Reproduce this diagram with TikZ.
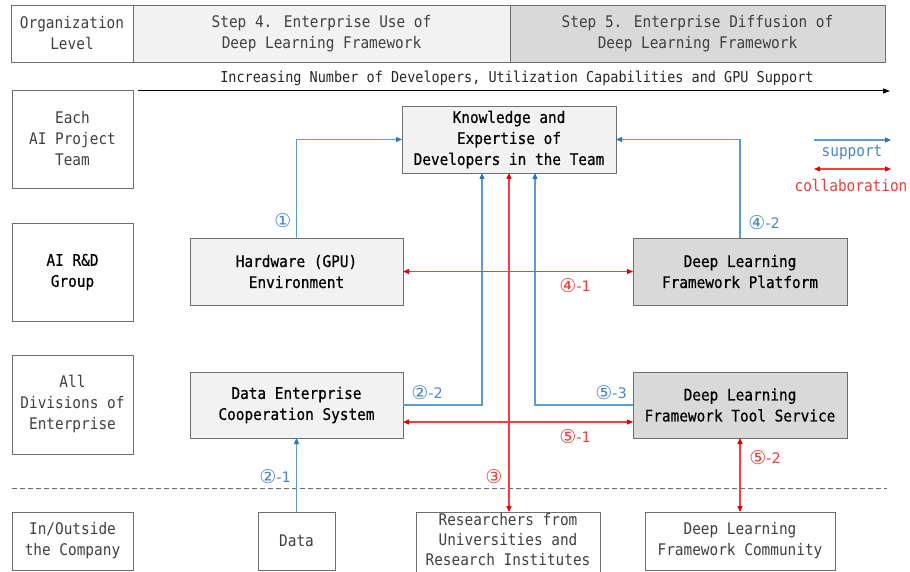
\documentclass[tikz,border=0pt]{standalone}
\usepackage{fontspec}
\setmainfont{DejaVu Sans Mono}[FakeStretch=0.9]
\newfontfamily\semibold{DejaVu Sans Mono}[FakeStretch=0.9, FakeBold=0.5]
\newfontfamily\numfont{DejaVu Sans}
\usetikzlibrary{arrows.meta}

\definecolor{lightfill}{HTML}{F2F2F2}
\definecolor{darkfill}{HTML}{D9D9D9}
\definecolor{boxline}{HTML}{6E6E6E}
\definecolor{softtext}{HTML}{404040}
\definecolor{supline}{HTML}{5B9BD5}
\definecolor{suptip}{HTML}{2E75B6}
\definecolor{colline}{HTML}{FF3B3B}
\definecolor{coltip}{HTML}{E00000}
\definecolor{suplabel}{HTML}{4A86C8}
\definecolor{collabel}{HTML}{E8403C}

% circled step number followed by an optional suffix
\newcommand\stepno[2]{{\fontsize{19}{19}\selectfont #1}\raisebox{1pt}{#2}}

\tikzset{
  txt/.style={font=\fontsize{16}{21}\selectfont},
  cell/.style={txt, draw=boxline, line width=0.9pt, align=center,
    inner sep=0pt, outer sep=0pt, text=softtext},
  levelbox/.style={cell, minimum width=121pt},
  mainbox/.style={cell, fill=lightfill, text=black,
    font=\fontsize{16}{21}\selectfont\semibold},
  darkbox/.style={mainbox, fill=darkfill},
  outbox/.style={cell},
  sup/.style={draw=supline, line width=1.1pt,
    -{Triangle[length=6pt,width=5pt,color=suptip]}},
  col/.style={draw=colline, line width=1.1pt,
    {Triangle[length=6pt,width=5pt,color=coltip]}-{Triangle[length=6pt,width=5pt,color=coltip]}},
  numlab/.style={font=\numfont\fontsize{14.5}{16}\selectfont, inner sep=0pt},
  suplab/.style={numlab, text=suplabel},
  collab/.style={numlab, text=collabel},
}

\begin{document}
\begin{tikzpicture}[x=1pt, y=-1pt]
\useasboundingbox[fill=white] (0,0) rectangle (910,572);

% header row
\node[cell, minimum width=122pt, minimum height=57pt] (hdrA) at (72,33.5)
  {Organization\\Level};
\node[cell, fill=lightfill, minimum width=377pt, minimum height=57pt] (hdrB) at (321.5,33.5)
  {Step 4. Enterprise Use of\\Deep Learning Framework};
\node[cell, fill=darkfill, minimum width=375pt, minimum height=57pt] (hdrC) at (697.5,33.5)
  {Step 5. Enterprise Diffusion of\\Deep Learning Framework};

% growth arrow
\coordinate (trendL) at (138,91);
\coordinate (trendR) at (890,91);
\node[font=\fontsize{15}{18}\selectfont, text=black!85, inner sep=0pt] (trend) at (517,78)
  {Increasing Number of Developers, Utilization Capabilities and GPU Support};
\draw[line width=1pt, -{Triangle[length=7pt,width=5pt]}] (trendL) -- (trendR);

% organisation levels
\node[levelbox, minimum height=98pt] (lvTeam) at (72.5,139) {Each\\AI Project\\Team};
\node[levelbox, minimum height=98pt, text=black, font=\fontsize{16}{21}\selectfont\semibold]
  (lvRnd) at (72.5,272) {AI R\&D\\Group};
\node[levelbox, minimum height=99pt] (lvDiv) at (72.5,404.5) {All\\Divisions of\\Enterprise};
\node[levelbox, minimum height=58pt] (lvExt) at (72.5,541) {In/Outside\\the Company};

% boundary of the enterprise
\coordinate (bndL) at (12,488);
\coordinate (bndR) at (887,488);
\draw[boxline, line width=0.9pt, dash pattern=on 5pt off 3pt] (bndL) -- (bndR);

% main blocks
\node[mainbox, minimum width=214pt, minimum height=67pt] (know) at (509,139.5)
  {Knowledge and\\Expertise of\\Developers in the Team};
\node[mainbox, minimum width=213pt, minimum height=67pt] (hw) at (296.5,271.5)
  {Hardware (GPU)\\Environment};
\node[darkbox, minimum width=214pt, minimum height=67pt] (plat) at (740,271.5)
  {Deep Learning\\Framework Platform};
\node[mainbox, minimum width=213pt, minimum height=66pt] (dec) at (296.5,405)
  {Data Enterprise\\Cooperation System};
\node[darkbox, minimum width=214pt, minimum height=66pt] (tool) at (740,405)
  {Deep Learning\\Framework Tool Service};

% outside partners
\node[outbox, minimum width=77pt, minimum height=58pt] (data) at (296.5,541) {Data};
\node[outbox, minimum width=184pt, minimum height=64pt] (res) at (508,544) {};
\node[font=\fontsize{16}{20}\selectfont, text=softtext, align=center, inner sep=0pt]
  (resTxt) at (508,540) {Researchers from\\Universities and\\Research Institutes};
\node[outbox, minimum width=190pt, minimum height=58pt] (com) at (740,541)
  {Deep Learning\\Framework Community};

% support flows
\draw[sup] (hw.north) |- (know.west);
\draw[sup] (plat.north) |- (know.east);
\draw[sup] (dec.east) -| ([xshift=-27pt]know.south);
\draw[sup] (tool.west) -| ([xshift=26pt]know.south);
\draw[sup] (data.north) -- (dec.south);

% collaboration flows
\draw[col] (hw.east) -- (plat.west);
\draw[col] ([yshift=-17pt]dec.east) -- ([yshift=-17pt]tool.west);
\draw[col] (know.south) -- (know.south |- res.north);
\draw[col] (tool.south) -- (com.north);

% flow labels
\node[suplab] (l1) at (283,221) {\stepno{①}{}};
\node[suplab] (l42) at (764,223) {\stepno{④}{-2}};
\node[collab] (l41) at (575,286) {\stepno{④}{-1}};
\node[suplab] (l22) at (427,393) {\stepno{②}{-2}};
\node[suplab] (l53) at (611,393) {\stepno{⑤}{-3}};
\node[collab] (l51) at (575,437) {\stepno{⑤}{-1}};
\node[collab] (l3) at (494,477) {\stepno{③}{}};
\node[collab] (l52) at (765,458) {\stepno{⑤}{-2}};
\node[suplab] (l21) at (275,477) {\stepno{②}{-1}};

% legend
\coordinate (supA) at (814,140);
\coordinate (supB) at (891,140);
\coordinate (colA) at (814,169);
\coordinate (colB) at (891,169);
\draw[sup] (supA) -- (supB);
\node[font=\fontsize{16}{18}\selectfont, text=suplabel, inner sep=0pt] (supTxt) at (852,153) {support};
\draw[col] (colA) -- (colB);
\node[font=\fontsize{16}{18}\selectfont, text=collabel, inner sep=0pt] (colTxt) at (851,185) {collaboration};
\end{tikzpicture}
\end{document}
